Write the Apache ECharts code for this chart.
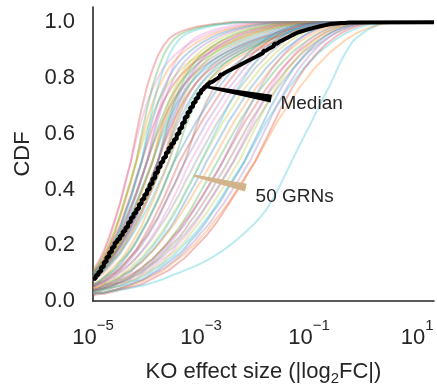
<!DOCTYPE html>
<html><head><meta charset="utf-8">
<script src="https://cdn.jsdelivr.net/npm/echarts@6/dist/echarts.min.js"></script>
<style>html,body{margin:0;padding:0;background:#fff}#c{width:437px;height:391px}</style>
</head><body><div id="c"></div>
<script>
// bin edges (log10 of |log2FC|), shared by every GRN CDF
const logGrid = [-5,-4.9,-4.8,-4.7,-4.6,-4.5,-4.4,-4.3,-4.2,-4.1,-4,-3.9,-3.8,-3.7,-3.6,-3.5,-3.4,-3.3,-3.2,-3.1,-3,-2.9,-2.8,-2.7,-2.6,-2.5,-2.4,-2.3,-2.2,-2.1,-2,-1.9,-1.8,-1.7,-1.6,-1.5,-1.4,-1.3,-1.2,-1.1,-1,-0.9,-0.8,-0.7,-0.6,-0.5,-0.4,-0.3,-0.2,-0.1,0,0.1,0.2,0.3,0.4,0.5,0.6];
// finer bin edges for the median curve
const medianGrid = [-5,-4.95,-4.9,-4.85,-4.8,-4.75,-4.7,-4.65,-4.6,-4.55,-4.5,-4.45,-4.4,-4.35,-4.3,-4.25,-4.2,-4.15,-4.1,-4.05,-4,-3.95,-3.9,-3.85,-3.8,-3.75,-3.7,-3.65,-3.6,-3.55,-3.5,-3.45,-3.4,-3.35,-3.3,-3.25,-3.2,-3.15,-3.1,-3.05,-3,-2.95,-2.9,-2.85,-2.8,-2.75,-2.7,-2.65,-2.6,-2.55,-2.5,-2.45,-2.4,-2.35,-2.3,-2.25,-2.2,-2.15,-2.1,-2.05,-2,-1.95,-1.9,-1.85,-1.8,-1.75,-1.7,-1.65,-1.6,-1.55,-1.5,-1.45,-1.4,-1.35,-1.3,-1.25,-1.2,-1.15,-1.1,-1.05,-1,-0.95,-0.9,-0.85,-0.8,-0.75,-0.7,-0.65,-0.6,-0.55,-0.5,-0.45,-0.4,-0.35,-0.3,-0.25,-0.2];
const xAxisMaxLog = 1.312;

// 50 GRN CDFs (values read at each bin edge)
const grn01 = [.11,.14,.18,.23,.29,.35,.43,.5,.60,.69,.77,.83,.88,.915,.94,.955,.965,.972,.978,.983,.987,.99,.993,.995,.997,1];
const grn02 = [.10,.13,.17,.22,.28,.35,.42,.5,.58,.65,.71,.76,.80,.835,.86,.88,.897,.912,.925,.936,.946,.955,.962,.968,.974,.979,.983,.987,.99,.993,.995,.997,.999,1];
const grn03 = [.10,.13,.16,.20,.25,.305,.37,.43,.5,.60,.69,.77,.83,.88,.915,.94,.955,.965,.972,.978,.983,.987,.99,.993,.995,.997,1];
const grn04 = [.09,.12,.15,.19,.24,.30,.36,.43,.5,.58,.65,.71,.76,.80,.835,.86,.88,.897,.912,.925,.936,.946,.955,.962,.968,.974,.979,.983,.987,.99,.993,.995,.997,.999,1];
const grn05 = [.105,.13,.165,.205,.25,.31,.37,.435,.5,.56,.62,.67,.715,.75,.78,.805,.825,.845,.86,.873,.885,.896,.906,.915,.924,.932,.94,.948,.955,.962,.968,.974,.979,.984,.988,.991,.994,.996,.998,.999,1];
const grn06 = [.09,.11,.14,.18,.22,.26,.32,.37,.44,.5,.58,.65,.71,.76,.80,.835,.86,.88,.897,.912,.925,.936,.946,.955,.962,.968,.974,.979,.983,.987,.99,.993,.995,.997,.999,1];
const grn07 = [.10,.12,.15,.19,.23,.27,.325,.38,.44,.5,.56,.62,.67,.715,.75,.78,.805,.825,.845,.86,.873,.885,.896,.906,.915,.924,.932,.94,.948,.955,.962,.968,.974,.979,.984,.988,.991,.994,.996,.998,.999,1];
const grn08 = [.085,.11,.135,.17,.21,.26,.31,.37,.43,.5,.60,.69,.77,.83,.88,.915,.94,.955,.965,.972,.978,.983,.987,.99,.993,.995,.997,1];
const grn09 = [.09,.11,.135,.165,.20,.24,.285,.335,.385,.44,.5,.56,.62,.67,.715,.75,.78,.805,.825,.845,.86,.873,.885,.896,.906,.915,.924,.932,.94,.948,.955,.962,.968,.974,.979,.984,.988,.991,.994,.996,.998,.999,1];
const grn10 = [.08,.10,.125,.155,.19,.23,.275,.325,.38,.44,.5,.58,.65,.71,.76,.80,.835,.86,.88,.897,.912,.925,.936,.946,.955,.962,.968,.974,.979,.983,.987,.99,.993,.995,.997,.999,1];
const grn11 = [.10,.12,.145,.175,.21,.25,.295,.34,.39,.445,.5,.555,.605,.65,.69,.725,.755,.78,.80,.82,.835,.85,.863,.875,.886,.896,.905,.914,.922,.93,.937,.944,.95,.956,.962,.967,.972,.976,.98,.984,.987,.99,.993,.995,.997,.999,1];
const grn12 = [.085,.105,.13,.16,.195,.235,.28,.33,.385,.44,.5,.59,.67,.74,.80,.85,.885,.91,.93,.945,.955,.963,.97,.976,.981,.985,.989,.992,.995,.997,1];
const grn13 = [.09,.11,.13,.155,.185,.22,.26,.30,.35,.40,.45,.5,.56,.62,.67,.715,.75,.78,.805,.825,.845,.86,.873,.885,.896,.906,.915,.924,.932,.94,.948,.955,.962,.968,.974,.979,.984,.988,.991,.994,.996,.998,.999,1];
const grn14 = [.08,.10,.12,.145,.175,.21,.25,.29,.34,.39,.445,.5,.58,.65,.71,.76,.80,.835,.86,.88,.897,.912,.925,.936,.946,.955,.962,.968,.974,.979,.983,.987,.99,.993,.995,.997,.999,1];
const grn15 = [.10,.12,.14,.17,.20,.23,.27,.31,.355,.40,.45,.5,.555,.605,.65,.69,.725,.755,.78,.80,.82,.835,.85,.863,.875,.886,.896,.905,.914,.922,.93,.937,.944,.95,.956,.962,.967,.972,.976,.98,.984,.987,.99,.993,.995,.997,.999,1];
const grn16 = [.085,.10,.125,.15,.18,.215,.25,.295,.345,.395,.445,.5,.57,.635,.69,.74,.78,.815,.842,.865,.884,.90,.913,.924,.934,.943,.951,.958,.964,.97,.975,.98,.984,.988,.991,.994,.996,.998,1];
const grn17 = [.08,.095,.115,.14,.165,.195,.23,.265,.305,.35,.40,.45,.5,.56,.62,.67,.715,.75,.78,.805,.825,.845,.86,.873,.885,.896,.906,.915,.924,.932,.94,.948,.955,.962,.968,.974,.979,.984,.988,.991,.994,.996,.998,.999,1];
const grn18 = [.09,.105,.125,.15,.175,.205,.24,.275,.315,.36,.405,.45,.5,.58,.65,.71,.76,.80,.835,.86,.88,.897,.912,.925,.936,.946,.955,.962,.968,.974,.979,.983,.987,.99,.993,.995,.997,.999,1];
const grn19 = [.085,.10,.12,.145,.17,.20,.235,.27,.31,.355,.40,.45,.5,.555,.605,.65,.69,.725,.755,.78,.80,.82,.835,.85,.863,.875,.886,.896,.905,.914,.922,.93,.937,.944,.95,.956,.962,.967,.972,.976,.98,.984,.987,.99,.993,.995,.997,.999,1];
const grn20 = [.075,.09,.11,.13,.16,.19,.22,.26,.30,.35,.40,.45,.5,.57,.635,.69,.74,.78,.815,.842,.865,.884,.90,.913,.924,.934,.943,.951,.958,.964,.97,.975,.98,.984,.988,.991,.994,.996,.998,1];
const grn21 = [.08,.095,.11,.135,.155,.18,.21,.245,.28,.32,.365,.41,.455,.5,.56,.62,.67,.715,.75,.78,.805,.825,.845,.86,.873,.885,.896,.906,.915,.924,.932,.94,.948,.955,.962,.968,.974,.979,.984,.988,.991,.994,.996,.998,.999,1];
const grn22 = [.07,.085,.10,.12,.145,.17,.20,.23,.27,.31,.355,.40,.45,.5,.58,.65,.71,.76,.80,.835,.86,.88,.897,.912,.925,.936,.946,.955,.962,.968,.974,.979,.983,.987,.99,.993,.995,.997,.999,1];
const grn23 = [.09,.105,.125,.145,.17,.195,.225,.255,.29,.33,.37,.41,.455,.5,.555,.605,.65,.69,.725,.755,.78,.80,.82,.835,.85,.863,.875,.886,.896,.905,.914,.922,.93,.937,.944,.95,.956,.962,.967,.972,.976,.98,.984,.987,.99,.993,.995,.997,.999,1];
const grn24 = [.075,.09,.105,.125,.15,.175,.205,.24,.275,.315,.36,.405,.45,.5,.57,.635,.69,.74,.78,.815,.842,.865,.884,.90,.913,.924,.934,.943,.951,.958,.964,.97,.975,.98,.984,.988,.991,.994,.996,.998,1];
const grn25 = [.08,.095,.11,.13,.15,.17,.20,.23,.26,.295,.33,.37,.415,.455,.5,.56,.62,.67,.715,.75,.78,.805,.825,.845,.86,.873,.885,.896,.906,.915,.924,.932,.94,.948,.955,.962,.968,.974,.979,.984,.988,.991,.994,.996,.998,.999,1];
const grn26 = [.06,.07,.085,.105,.125,.145,.17,.20,.235,.27,.315,.355,.405,.45,.5,.555,.605,.65,.69,.725,.755,.78,.80,.82,.835,.85,.863,.875,.886,.896,.905,.914,.922,.93,.937,.944,.95,.956,.962,.967,.972,.976,.98,.984,.987,.99,.993,.995,.997,.999,1];
const grn27 = [.055,.065,.08,.095,.11,.13,.155,.18,.21,.245,.28,.32,.36,.405,.455,.5,.535,.57,.605,.64,.67,.70,.73,.76,.785,.81,.835,.855,.875,.895,.91,.925,.94,.952,.963,.972,.98,.986,.991,.995,.998,1];
const grn28 = [.06,.07,.085,.10,.115,.14,.16,.185,.215,.25,.285,.325,.365,.41,.455,.5,.56,.62,.67,.715,.75,.78,.805,.825,.845,.86,.873,.885,.896,.906,.915,.924,.932,.94,.948,.955,.962,.968,.974,.979,.984,.988,.991,.994,.996,.998,.999,1];
const grn29 = [.05,.06,.07,.085,.10,.115,.135,.16,.185,.215,.25,.285,.325,.365,.41,.455,.5,.535,.57,.605,.64,.67,.70,.73,.76,.785,.81,.835,.855,.875,.895,.91,.925,.94,.952,.963,.972,.98,.986,.991,.995,.998,1];
const grn30 = [.05,.06,.07,.08,.095,.11,.13,.15,.175,.20,.23,.26,.295,.335,.375,.415,.455,.5,.535,.57,.605,.64,.67,.70,.73,.76,.785,.81,.835,.855,.875,.895,.91,.925,.94,.952,.963,.972,.98,.986,.991,.995,.998,1];
const grn31 = [.055,.065,.075,.09,.10,.12,.14,.16,.18,.21,.235,.27,.30,.34,.38,.415,.46,.5,.56,.62,.67,.715,.75,.78,.805,.825,.845,.86,.873,.885,.896,.906,.915,.924,.932,.94,.948,.955,.962,.968,.974,.979,.984,.988,.991,.994,.996,.998,.999,1];
const grn32 = [.045,.055,.06,.075,.085,.10,.115,.135,.155,.18,.205,.235,.265,.30,.335,.375,.415,.46,.5,.535,.57,.605,.64,.67,.70,.73,.76,.785,.81,.835,.855,.875,.895,.91,.925,.94,.952,.963,.972,.98,.986,.991,.995,.998,1];
const grn33 = [.05,.06,.065,.08,.09,.105,.12,.135,.155,.175,.20,.225,.255,.285,.315,.35,.385,.425,.46,.5,.535,.57,.605,.64,.67,.70,.73,.76,.785,.81,.835,.855,.875,.895,.91,.925,.94,.952,.963,.972,.98,.986,.991,.995,.998,1];
const grn34 = [.045,.05,.06,.07,.08,.09,.105,.12,.14,.155,.18,.20,.23,.255,.285,.32,.35,.39,.425,.46,.5,.535,.57,.605,.64,.67,.70,.73,.76,.785,.81,.835,.855,.875,.895,.91,.925,.94,.952,.963,.972,.98,.986,.991,.995,.998,1];
const grn35 = [.04,.045,.055,.065,.075,.085,.10,.11,.13,.15,.17,.195,.22,.245,.28,.31,.345,.385,.42,.46,.5,.54,.58,.62,.66,.70,.735,.77,.80,.83,.855,.88,.90,.92,.935,.95,.962,.972,.98,.987,.992,.996,.999,1];
const grn36 = [.04,.045,.055,.06,.07,.08,.095,.105,.125,.14,.16,.18,.205,.23,.255,.285,.32,.355,.39,.425,.46,.5,.535,.57,.605,.64,.67,.70,.73,.76,.785,.81,.835,.855,.875,.895,.91,.925,.94,.952,.963,.972,.98,.986,.991,.995,.998,1];
const grn37 = [.045,.05,.06,.065,.075,.085,.10,.11,.125,.14,.16,.18,.20,.225,.25,.275,.305,.335,.365,.40,.43,.465,.5,.535,.57,.605,.64,.67,.70,.73,.76,.785,.81,.835,.855,.875,.895,.91,.925,.94,.952,.963,.972,.98,.986,.991,.995,.998,1];
const grn38 = [.035,.04,.045,.055,.06,.07,.08,.09,.105,.115,.135,.15,.17,.19,.215,.24,.265,.295,.325,.36,.395,.43,.465,.5,.535,.57,.605,.64,.67,.70,.73,.76,.785,.81,.835,.855,.875,.895,.91,.925,.94,.952,.963,.972,.98,.986,.991,.995,.998,1];
const grn39 = [.04,.045,.05,.06,.065,.075,.085,.095,.105,.12,.135,.15,.17,.19,.21,.235,.255,.285,.31,.34,.37,.40,.435,.465,.5,.535,.57,.605,.64,.67,.70,.73,.76,.785,.81,.835,.855,.875,.895,.91,.925,.94,.952,.963,.972,.98,.986,.991,.995,.998,1];
const grn40 = [.035,.04,.045,.05,.06,.065,.075,.085,.10,.11,.125,.14,.16,.18,.20,.225,.25,.275,.305,.335,.365,.40,.43,.465,.5,.54,.58,.62,.66,.70,.735,.77,.80,.83,.855,.88,.90,.92,.935,.95,.962,.972,.98,.987,.992,.996,.999,1];
const grn41 = [.035,.04,.045,.05,.06,.065,.075,.085,.095,.105,.12,.135,.15,.17,.19,.21,.23,.255,.285,.31,.34,.37,.40,.435,.465,.5,.535,.57,.605,.64,.67,.70,.73,.76,.785,.81,.835,.855,.875,.895,.91,.925,.94,.952,.963,.972,.98,.986,.991,.995,.998,1];
const grn42 = [.03,.035,.04,.045,.05,.055,.065,.075,.08,.095,.105,.12,.135,.15,.165,.185,.21,.23,.255,.28,.31,.34,.37,.40,.435,.465,.5,.54,.58,.62,.66,.70,.735,.77,.80,.83,.855,.88,.90,.92,.935,.95,.962,.972,.98,.987,.992,.996,.999,1];
const grn43 = [.035,.04,.045,.05,.055,.065,.07,.08,.09,.10,.115,.13,.145,.16,.18,.195,.22,.24,.265,.29,.315,.345,.375,.405,.435,.47,.5,.535,.57,.605,.64,.67,.70,.73,.76,.785,.81,.835,.855,.875,.895,.91,.925,.94,.952,.963,.972,.98,.986,.991,.995,.998,1];
const grn44 = [.03,.035,.04,.045,.05,.055,.065,.07,.08,.09,.10,.115,.125,.14,.16,.175,.195,.215,.24,.265,.29,.315,.345,.375,.405,.435,.47,.5,.54,.58,.62,.66,.70,.735,.77,.80,.83,.855,.88,.90,.92,.935,.95,.962,.972,.98,.987,.992,.996,.999,1];
const grn45 = [.03,.035,.04,.045,.05,.055,.06,.07,.075,.085,.095,.11,.12,.135,.15,.165,.185,.205,.225,.245,.27,.295,.32,.35,.38,.41,.44,.47,.5,.535,.57,.605,.64,.67,.70,.73,.76,.785,.81,.835,.855,.875,.895,.91,.925,.94,.952,.963,.972,.98,.986,.991,.995,.998,1];
const grn46 = [.025,.03,.03,.035,.04,.045,.055,.06,.07,.075,.085,.10,.11,.125,.14,.155,.17,.19,.215,.235,.26,.285,.315,.34,.37,.405,.435,.465,.5,.54,.58,.62,.66,.70,.735,.77,.80,.83,.855,.88,.90,.92,.935,.95,.962,.972,.98,.987,.992,.996,.999,1];
const grn47 = [.025,.03,.03,.035,.04,.045,.05,.06,.065,.075,.085,.095,.105,.115,.13,.145,.16,.18,.20,.22,.245,.265,.29,.32,.345,.375,.405,.435,.47,.5,.54,.58,.62,.66,.70,.735,.77,.80,.83,.855,.88,.90,.92,.935,.95,.962,.972,.98,.987,.992,.996,.999,1];
const grn48 = [.02,.025,.025,.03,.035,.04,.045,.05,.055,.06,.07,.08,.09,.10,.11,.125,.14,.155,.175,.195,.215,.235,.26,.285,.315,.345,.375,.405,.435,.47,.5,.54,.58,.62,.66,.70,.735,.77,.80,.83,.855,.88,.90,.92,.935,.95,.962,.972,.98,.987,.992,.996,.999,1];
const grn49 = [.025,.03,.03,.035,.04,.045,.05,.055,.065,.07,.08,.09,.10,.11,.125,.14,.155,.17,.19,.205,.23,.25,.275,.30,.325,.35,.38,.41,.44,.47,.5,.535,.57,.605,.64,.67,.70,.73,.76,.785,.81,.835,.855,.875,.895,.91,.925,.94,.952,.963,.972,.98,.986,.991,.995,.998,1];
const grn50 = [.025,.027,.03,.033,.036,.04,.043,.047,.051,.055,.06,.066,.072,.079,.087,.095,.102,.11,.118,.126,.135,.145,.156,.168,.181,.195,.21,.226,.243,.261,.28,.302,.325,.357,.39,.43,.47,.51,.55,.588,.625,.665,.705,.743,.78,.823,.865,.90,.93,.948,.962,.975,.985,.994,1];

// pointwise median of the 50 GRNs (finer bins)
const medianCdf = [.08,.092,.105,.122,.14,.158,.175,.193,.21,.222,.235,.25,.265,.283,.30,.315,.33,.348,.365,.382,
  .40,.42,.44,.46,.48,.498,.515,.533,.55,.565,.58,.60,.62,.64,.66,.678,.695,.712,.728,.745,
  .758,.768,.777,.785,.792,.798,.805,.813,.82,.825,.83,.835,.84,.845,.85,.855,.86,.865,.87,.875,
  .88,.885,.89,.898,.905,.91,.915,.923,.93,.935,.94,.945,.95,.955,.96,.964,.967,.97,.973,.976,
  .978,.981,.983,.986,.988,.99,.992,.994,.995,.996,.997,.9975,.998,.9985,.999,.9995,1];

const grnCurves = [grn01,grn02,grn03,grn04,grn05,grn06,grn07,grn08,grn09,grn10,grn11,grn12,grn13,grn14,grn15,grn16,grn17,grn18,grn19,grn20,grn21,grn22,grn23,grn24,grn25,grn26,grn27,grn28,grn29,grn30,grn31,grn32,grn33,grn34,grn35,grn36,grn37,grn38,grn39,grn40,grn41,grn42,grn43,grn44,grn45,grn46,grn47,grn48,grn49,grn50];

const C = {blue:'#1f77b4',orange:'#ff7f0e',green:'#2ca02c',red:'#d62728',purple:'#9467bd',brown:'#8c564b',pink:'#e377c2',gray:'#7f7f7f',olive:'#bcbd22',cyan:'#17becf'};
const grnColors = [C.red,C.pink,C.green,C.orange,C.olive,C.blue,C.red,C.cyan,C.green,C.purple,C.brown,C.pink,C.gray,C.olive,C.cyan,C.orange,C.blue,C.green,C.red,C.purple,C.brown,C.pink,C.gray,C.olive,C.cyan,
  C.orange,C.blue,C.green,C.red,C.purple,C.brown,C.pink,C.gray,C.olive,C.cyan,C.blue,C.orange,C.green,C.red,C.purple,C.brown,C.pink,C.gray,C.olive,C.cyan,C.blue,C.purple,C.red,C.orange,C.cyan];

// annotations (log10 x, CDF y)
const annoText = ['Median', '50 GRNs'];
const annoTip = [[-2.95, 0.77], [-3.13, 0.45]];
const annoTail = [[-1.70, 0.726], [-2.17, 0.407]];
const annoLabel = [[-1.53, 0.706], [-1.99, 0.373]];
const annoColor = ['#000000', '#d2b48c'];

const FONT = '"Liberation Sans", Arial, Helvetica, sans-serif';
const INK = '#262626';
const xMax = Math.pow(10, xAxisMaxLog);

function toData(grid, ys) {
  const d = ys.map((y, i) => [Math.pow(10, grid[i]), y]);
  d.push([xMax, ys[ys.length - 1]]);
  return d;
}

const series = grnCurves.map((ys, i) => ({
  type: 'line', data: toData(logGrid, ys), symbol: 'none', silent: true, z: 2,
  lineStyle: { color: grnColors[i], width: 2, opacity: 0.3 }
}));
series.push({
  type: 'line', name: 'Median', step: 'end', data: toData(medianGrid, medianCdf), symbol: 'none', silent: true, z: 3,
  lineStyle: { color: '#000000', width: 4 }
});
series.push({
  type: 'custom', z: 10, silent: true, clip: false,
  encode: { x: [0, 2, 4], y: [1, 3, 5] },
  data: annoText.map((t, i) => [Math.pow(10, annoTip[i][0]), annoTip[i][1], Math.pow(10, annoTail[i][0]), annoTail[i][1], Math.pow(10, annoLabel[i][0]), annoLabel[i][1]]),
  renderItem: function (params, api) {
    const i = params.dataIndex;
    const a = api.coord([api.value(0), api.value(1)]);
    const b = api.coord([api.value(2), api.value(3)]);
    const l = api.coord([api.value(4), api.value(5)]);
    const dx = b[0] - a[0], dy = b[1] - a[1], len = Math.hypot(dx, dy);
    const nx = -dy / len, ny = dx / len;
    const w1 = 1.2, w2 = 4;
    return { type: 'group', children: [
      { type: 'polygon', shape: { points: [[a[0] + nx * w1, a[1] + ny * w1], [b[0] + nx * w2, b[1] + ny * w2], [b[0] - nx * w2, b[1] - ny * w2], [a[0] - nx * w1, a[1] - ny * w1]] }, style: { fill: annoColor[i] } },
      { type: 'text', style: { text: annoText[i], x: l[0], y: l[1], fill: INK, fontSize: 19, fontFamily: FONT, align: 'left', verticalAlign: 'middle' } }
    ] };
  }
});

const chart = echarts.init(document.getElementById('c'), null, { renderer: 'canvas' });
chart.setOption({
  animation: false,
  backgroundColor: '#ffffff',
  grid: { left: 93, right: 0, top: 7, bottom: 86, containLabel: false },
  xAxis: {
    type: 'log', logBase: 10, min: 1e-5, max: xMax,
    axisLine: { show: true, onZero: false, lineStyle: { color: INK, width: 1.6 } },
    axisTick: { show: false }, splitLine: { show: false }, minorTick: { show: false },
    axisLabel: {
      margin: 17, color: INK, fontFamily: FONT,
      formatter: function (v) {
        const e = Math.log10(v), ei = Math.round(e);
        if (Math.abs(e - ei) > 0.01 || Math.abs(ei % 2) !== 1) return '';
        return '{b|10}{s|' + (ei < 0 ? '\u2212' : '') + Math.abs(ei) + '}';
      },
      rich: {
        b: { fontSize: 22, lineHeight: 40, color: INK, fontFamily: FONT },
        s: { fontSize: 15, lineHeight: 15, verticalAlign: 'top', color: INK, fontFamily: FONT }
      }
    },
    name: '{n|KO effect size (|log}{sub|2}{n|FC|)}',
    nameLocation: 'middle', nameGap: 57,
    nameTextStyle: {
      rich: {
        n: { fontSize: 22, lineHeight: 28, color: INK, fontFamily: FONT },
        sub: { fontSize: 15, lineHeight: 14, verticalAlign: 'bottom', color: INK, fontFamily: FONT }
      }
    }
  },
  yAxis: {
    type: 'value', min: 0, max: 1.055, interval: 0.2,
    axisLine: { show: true, lineStyle: { color: INK, width: 1.6 } },
    axisTick: { show: false }, splitLine: { show: false },
    axisLabel: {
      fontSize: 22, color: INK, margin: 18, fontFamily: FONT,
      formatter: function (v) { const q = v / 0.2; return Math.abs(q - Math.round(q)) < 1e-6 ? v.toFixed(1) : ''; }
    },
    name: 'CDF', nameLocation: 'middle', nameGap: 58,
    nameTextStyle: { fontSize: 22, color: INK, fontFamily: FONT }
  },
  series: series
});
</script></body></html>
